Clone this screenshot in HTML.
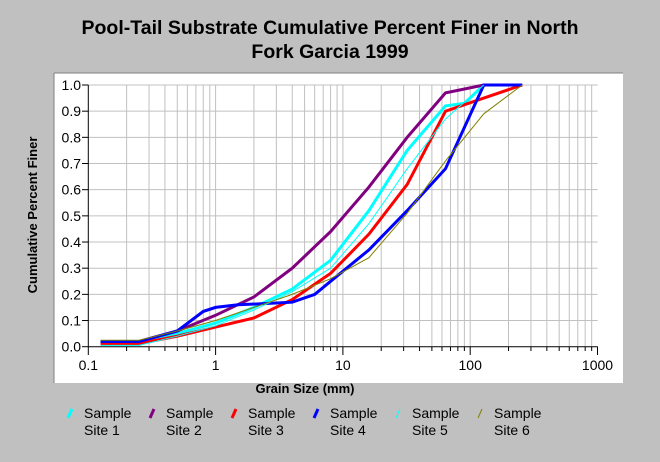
<!DOCTYPE html>
<html><head><meta charset="utf-8"><style>
body{margin:0;background:#c0c0c0;width:660px;height:457px;overflow:hidden;font-family:"Liberation Sans",Arial,sans-serif}
</style></head><body>
<svg id="s" width="660" height="457" xmlns="http://www.w3.org/2000/svg" font-family="Liberation Sans, Arial, sans-serif">
<rect width="660" height="457" fill="#c0c0c0"/>
<text x="330" y="34" font-size="19.5" font-weight="bold" text-anchor="middle">Pool-Tail Substrate Cumulative Percent Finer in North</text>
<text x="330" y="58" font-size="19.5" font-weight="bold" text-anchor="middle">Fork Garcia 1999</text>
<rect x="54" y="73" width="569" height="310" fill="#fff"/>
<line x1="54" y1="73" x2="54" y2="383" stroke="#808080"/>
<line x1="54" y1="73" x2="623" y2="73" stroke="#808080"/>
<g id="g"></g>
<text x="305" y="393" font-size="13" font-weight="bold" text-anchor="middle">Grain Size (mm)</text>
<text transform="translate(37,215) rotate(-90)" font-size="13" font-weight="bold" text-anchor="middle">Cumulative Percent Finer</text>
</svg>
<script>
var g=document.getElementById('g'),h='';
function X(d){return 88.3+127.3*Math.log10(d/0.1)}
function Y(v){return 346.7-261.7*v}
for(var e=0;e<4;e++)for(var k=1;k<10;k++){var x=X(0.1*Math.pow(10,e)*k);if(e==0&&k==1)continue;h+='<line x1="'+x+'" y1="85" x2="'+x+'" y2="346.7" stroke="#c0c0c0"/>';}
for(var i=1;i<=10;i++){var y=Y(i/10);h+='<line x1="88.3" y1="'+y+'" x2="597.7" y2="'+y+'" stroke="#c0c0c0"/>';}
var S=[
['#00ffff',3,[[.125,.01],[.25,.01],[.5,.05],[1,.09],[2,.15],[4,.22],[8,.33],[16,.52],[32,.75],[64,.92],[90,.93],[128,1],[256,1]]],
['#800080',3,[[.125,.02],[.25,.02],[.5,.06],[1,.12],[2,.19],[4,.3],[8,.44],[16,.61],[32,.8],[64,.97],[128,1],[256,1]]],
['#ff0000',3,[[.125,.01],[.25,.012],[.5,.04],[1,.075],[2,.11],[4,.18],[8,.28],[16,.43],[32,.62],[64,.9],[128,.95],[256,1]]],
['#0000ff',3,[[.125,.02],[.25,.02],[.5,.06],[.8,.135],[1,.15],[1.5,.16],[2.5,.165],[4,.17],[6,.2],[8,.25],[16,.37],[32,.52],[64,.68],[128,1],[256,1]]],
['#00ffff',1,[[.125,.005],[.25,.005],[.5,.04],[1,.08],[2,.14],[4,.21],[8,.3],[16,.47],[32,.68],[64,.87],[128,1]]],
['#808000',1,[[.125,.025],[.25,.025],[.5,.06],[1,.1],[2,.15],[4,.2],[8,.26],[16,.34],[32,.51],[64,.71],[128,.89],[256,1]]]];
S.forEach(function(s){h+='<polyline fill="none" stroke="'+s[0]+'" stroke-width="'+s[1]+'" points="'+s[2].map(function(p){return X(p[0]).toFixed(1)+','+Y(p[1]).toFixed(1)}).join(' ')+'"/>';});
h+='<line x1="88.3" y1="85" x2="88.3" y2="346.7" stroke="#000"/><line x1="88.3" y1="346.7" x2="597.7" y2="346.7" stroke="#000"/>';
for(var i=0;i<=10;i++){var y=Y(i/10);h+='<line x1="82" y1="'+y+'" x2="88.3" y2="'+y+'" stroke="#000"/><text x="81" y="'+(y+5)+'" font-size="14" text-anchor="end">'+(i/10).toFixed(1)+'</text>';}
for(var e=0;e<=4;e++){for(var k=1;k<10;k++){if(e==4&&k>1)break;var x=X(0.1*Math.pow(10,e)*k);h+='<line x1="'+x+'" y1="346.7" x2="'+x+'" y2="'+(k==1?355:351)+'" stroke="#000"/>';}
h+='<text x="'+X(0.1*Math.pow(10,e))+'" y="370" font-size="14" text-anchor="middle">'+['0.1','1','10','100','1000'][e]+'</text>';}
var cols=[['#00ffff',3],['#800080',3],['#ff0000',3],['#0000ff',3],['#00ffff',1],['#808000',1]];
cols.forEach(function(c,i){var x=84+i*82;
h+='<line x1="'+(x-16)+'" y1="418" x2="'+(x-12)+'" y2="409" stroke="'+c[0]+'" stroke-width="'+c[1]+'"/>';
h+='<text x="'+x+'" y="418" font-size="14">Sample</text><text x="'+x+'" y="435" font-size="14">Site '+(i+1)+'</text>';});
g.innerHTML=h;
</script>
</body></html>
